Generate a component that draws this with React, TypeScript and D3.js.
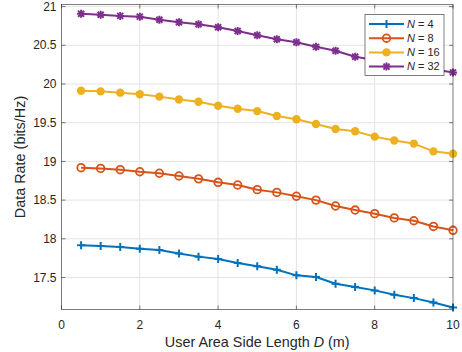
import { useEffect, useRef } from 'react';
import * as d3 from 'd3';

const WIDTH = 462;
const HEIGHT = 352;
const PLOT = { left: 61.5, right: 453, top: 4.5, bottom: 309.5 };

// side length D (m)
const sideLength = [0.5, 1, 1.5, 2, 2.5, 3, 3.5, 4, 4.5, 5, 5.5, 6, 6.5, 7, 7.5, 8, 8.5, 9, 9.5, 10];

const rateN4 = [17.916, 17.907, 17.894, 17.872, 17.855, 17.81, 17.77, 17.74, 17.687, 17.645, 17.6, 17.528, 17.506, 17.42, 17.377, 17.334, 17.277, 17.234, 17.178, 17.113];
const rateN8 = [18.919, 18.91, 18.893, 18.867, 18.847, 18.812, 18.775, 18.73, 18.695, 18.635, 18.6, 18.55, 18.5, 18.424, 18.372, 18.325, 18.27, 18.234, 18.16, 18.11];
const rateN16 = [19.913, 19.905, 19.888, 19.867, 19.837, 19.8, 19.77, 19.72, 19.68, 19.65, 19.587, 19.544, 19.483, 19.419, 19.39, 19.32, 19.27, 19.23, 19.13, 19.1];
const rateN32 = [20.908, 20.895, 20.88, 20.87, 20.831, 20.797, 20.771, 20.733, 20.685, 20.629, 20.578, 20.539, 20.48, 20.43, 20.353, 20.31, 20.27, 20.23, 20.19, 20.15];

const xTicks = [0, 2, 4, 6, 8, 10];
const yTicks = [17.5, 18, 18.5, 19, 19.5, 20, 20.5, 21];
const seriesNames = ['4', '8', '16', '32'];

type Marker = 'plus' | 'circle' | 'dot' | 'star';

const SERIES: { n: string; values: number[]; color: string; marker: Marker }[] = [
  { n: seriesNames[0], values: rateN4, color: '#0072BD', marker: 'plus' },
  { n: seriesNames[1], values: rateN8, color: '#D95319', marker: 'circle' },
  { n: seriesNames[2], values: rateN16, color: '#EDB120', marker: 'dot' },
  { n: seriesNames[3], values: rateN32, color: '#7E2F8E', marker: 'star' },
];

const AXIS_COLOR = '#262626';
const FONT = '"Liberation Sans", Arial, Helvetica, sans-serif';

// draw one marker centered at (cx, cy)
const drawMarker = (g: d3.Selection<SVGGElement, unknown, null, undefined>, type: Marker, cx: number, cy: number, color: string) => {
  const s = 4;
  if (type === 'plus' || type === 'star') {
    g.append('path')
      .attr('d', `M${cx - s},${cy}H${cx + s}M${cx},${cy - s}V${cy + s}`)
      .attr('stroke', color)
      .attr('stroke-width', 2)
      .attr('fill', 'none');
  }
  if (type === 'star') {
    const d = s * 0.75;
    g.append('path')
      .attr('d', `M${cx - d},${cy - d}L${cx + d},${cy + d}M${cx - d},${cy + d}L${cx + d},${cy - d}`)
      .attr('stroke', color)
      .attr('stroke-width', 2)
      .attr('fill', 'none');
  }
  if (type === 'circle') {
    g.append('circle')
      .attr('cx', cx).attr('cy', cy).attr('r', 3.8)
      .attr('stroke', color).attr('stroke-width', 1.8)
      .attr('fill', 'none');
  }
  if (type === 'dot') {
    g.append('circle')
      .attr('cx', cx).attr('cy', cy).attr('r', 4.2)
      .attr('fill', color);
  }
};

export default function App() {
  const svgRef = useRef<SVGSVGElement>(null);

  useEffect(() => {
    if (!svgRef.current) return;
    const svg = d3.select(svgRef.current);
    svg.selectAll('*').remove();

    const xScale = d3.scaleLinear().domain([0, 10]).range([PLOT.left, PLOT.right]);
    const yScale = d3.scaleLinear().domain([17.087, 21.027]).range([PLOT.bottom, PLOT.top]);

    svg.append('rect')
      .attr('x', PLOT.left).attr('y', PLOT.top)
      .attr('width', PLOT.right - PLOT.left).attr('height', PLOT.bottom - PLOT.top)
      .attr('fill', '#fff');

    // grid
    const grid = svg.append('g');
    grid.selectAll('.gx')
      .data(xTicks.filter(t => t > 0 && t < 10))
      .join('line')
      .attr('x1', d => xScale(d)).attr('x2', d => xScale(d))
      .attr('y1', PLOT.top).attr('y2', PLOT.bottom)
      .attr('stroke', '#e3e3e3').attr('stroke-width', 1);
    grid.selectAll('.gy')
      .data(yTicks)
      .join('line')
      .attr('x1', PLOT.left).attr('x2', PLOT.right)
      .attr('y1', d => yScale(d)).attr('y2', d => yScale(d))
      .attr('stroke', '#e3e3e3').attr('stroke-width', 1);

    // lines
    const line = d3.line<number>()
      .x((_, i) => xScale(sideLength[i]))
      .y(d => yScale(d));

    SERIES.forEach(s => {
      svg.append('path')
        .datum(s.values)
        .attr('d', line)
        .attr('fill', 'none')
        .attr('stroke', s.color)
        .attr('stroke-width', 2)
        .attr('stroke-linejoin', 'round');
      const mg = svg.append('g');
      s.values.forEach((v, i) => drawMarker(mg, s.marker, xScale(sideLength[i]), yScale(v), s.color));
    });

    // axes box and ticks
    const axes = svg.append('g');
    axes.append('rect')
      .attr('x', PLOT.left).attr('y', PLOT.top)
      .attr('width', PLOT.right - PLOT.left).attr('height', PLOT.bottom - PLOT.top)
      .attr('fill', 'none').attr('stroke', AXIS_COLOR).attr('stroke-width', 0.8)
      .attr('stroke-opacity', 0.75);
    const tl = 4;
    xTicks.forEach(t => {
      axes.append('path')
        .attr('d', `M${xScale(t)},${PLOT.bottom}v${-tl}M${xScale(t)},${PLOT.top}v${tl}`)
        .attr('stroke', AXIS_COLOR).attr('stroke-width', 0.8).attr('stroke-opacity', 0.75);
      axes.append('text')
        .attr('x', xScale(t)).attr('y', PLOT.bottom + 15)
        .attr('dy', '0.35em')
        .attr('text-anchor', 'middle')
        .style('font-family', FONT).style('font-size', '12px').style('fill', AXIS_COLOR)
        .text(t);
    });
    yTicks.forEach(t => {
      axes.append('path')
        .attr('d', `M${PLOT.left},${yScale(t)}h${tl}M${PLOT.right},${yScale(t)}h${-tl}`)
        .attr('stroke', AXIS_COLOR).attr('stroke-width', 0.8).attr('stroke-opacity', 0.75);
      axes.append('text')
        .attr('x', PLOT.left - 5).attr('y', yScale(t))
        .attr('dy', '0.35em')
        .attr('text-anchor', 'end')
        .style('font-family', FONT).style('font-size', '12px').style('fill', AXIS_COLOR)
        .text(t);
    });

    // axis titles
    const xt = svg.append('text')
      .attr('x', (PLOT.left + PLOT.right) / 2).attr('y', 347)
      .attr('text-anchor', 'middle')
      .style('font-family', FONT).style('font-size', '14.4px').style('fill', AXIS_COLOR);
    xt.append('tspan').text('User Area Side Length ');
    xt.append('tspan').style('font-style', 'italic').text('D');
    xt.append('tspan').text(' (m)');

    svg.append('text')
      .attr('transform', `translate(25, ${(PLOT.top + PLOT.bottom) / 2}) rotate(-90)`)
      .attr('text-anchor', 'middle')
      .style('font-family', FONT).style('font-size', '14.4px').style('fill', AXIS_COLOR)
      .text('Data Rate (bits/Hz)');

    // legend
    const lg = svg.append('g');
    lg.append('rect')
      .attr('x', 365).attr('y', 14.5).attr('width', 79).attr('height', 61)
      .attr('fill', '#fff').attr('stroke', AXIS_COLOR).attr('stroke-width', 0.8).attr('stroke-opacity', 0.75);
    SERIES.forEach((s, i) => {
      const y = 24 + i * 14.2;
      lg.append('line')
        .attr('x1', 369).attr('x2', 404).attr('y1', y).attr('y2', y)
        .attr('stroke', s.color).attr('stroke-width', 2);
      drawMarker(lg, s.marker, 386.5, y, s.color);
      const t = lg.append('text')
        .attr('x', 407).attr('y', y).attr('dy', '0.35em')
        .style('font-family', FONT).style('font-size', '11px').style('fill', AXIS_COLOR);
      t.append('tspan').style('font-style', 'italic').text('N');
      t.append('tspan').text(` = ${s.n}`);
    });
  }, []);

  return (
    <svg
      ref={svgRef}
      width={WIDTH}
      height={HEIGHT}
      style={{ position: 'absolute', left: 0, top: 0, background: '#fff' }}
    />
  );
}
